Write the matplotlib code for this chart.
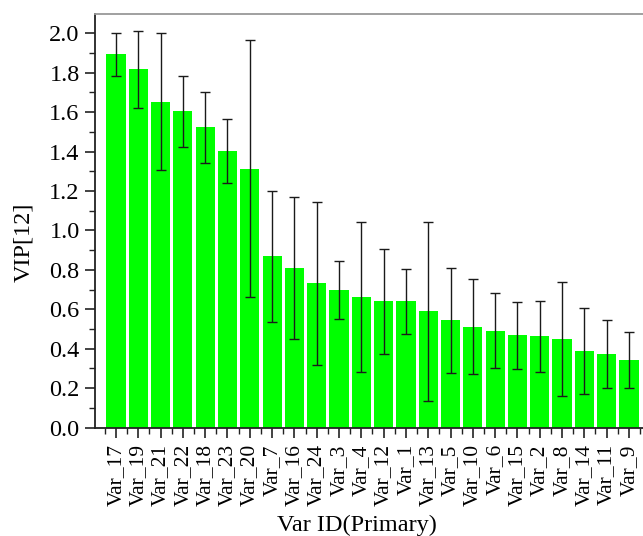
import matplotlib
matplotlib.use("Agg")
import matplotlib.pyplot as plt
from matplotlib.ticker import MultipleLocator, FormatStrFormatter
import numpy as np

# VIP scores of the primary variables, sorted in descending order
variables = ["Var_17", "Var_19", "Var_21", "Var_22", "Var_18", "Var_23", "Var_20",
             "Var_7", "Var_16", "Var_24", "Var_3", "Var_4", "Var_12", "Var_1",
             "Var_13", "Var_5", "Var_10", "Var_6", "Var_15", "Var_2", "Var_8",
             "Var_14", "Var_11", "Var_9"]
vip = [1.893, 1.817, 1.653, 1.606, 1.523, 1.403, 1.311,
       0.870, 0.809, 0.731, 0.697, 0.661, 0.643, 0.640,
       0.592, 0.545, 0.511, 0.492, 0.469, 0.462, 0.450,
       0.389, 0.374, 0.344]
# confidence interval limits
ci_low = [1.783, 1.619, 1.305, 1.423, 1.344, 1.240, 0.660,
          0.533, 0.447, 0.316, 0.550, 0.279, 0.374, 0.472,
          0.135, 0.276, 0.271, 0.301, 0.299, 0.279, 0.161,
          0.169, 0.200, 0.200]
ci_high = [2.003, 2.013, 2.002, 1.785, 1.701, 1.567, 1.966,
           1.200, 1.168, 1.146, 0.843, 1.040, 0.907, 0.804,
           1.040, 0.809, 0.751, 0.680, 0.638, 0.641, 0.736,
           0.606, 0.545, 0.486]

plt.rcParams["font.family"] = ["Liberation Serif", "DejaVu Serif"]

fig = plt.figure(figsize=(6.43, 5.36), dpi=100)
ax = fig.add_axes([95 / 643, 1 - 427.5 / 536, (643 - 95) / 643, (427.5 - 14.3) / 536])

x = np.arange(len(variables))
vip_a = np.array(vip)
yerr = [vip_a - np.array(ci_low), np.array(ci_high) - vip_a]

ax.bar(x, vip, width=0.86, color="#00ff00", edgecolor="none", zorder=2)
ax.errorbar(x, vip, yerr=yerr, fmt="none", ecolor="#1a1a1a", elinewidth=1.0,
            capsize=3.5, capthick=1.0, zorder=3)

ax.set_xlim(-0.94, 23.63)
ax.set_ylim(0, 2.096)
ax.set_xticks(x)
ax.set_xticklabels(variables, rotation=90, fontsize=15.5)
ax.xaxis.set_minor_locator(MultipleLocator(0.5))
ax.yaxis.set_major_locator(MultipleLocator(0.2))
ax.yaxis.set_minor_locator(MultipleLocator(0.1))
ax.yaxis.set_major_formatter(FormatStrFormatter("%.1f"))
ax.tick_params(axis="y", labelsize=17.5, pad=4)
ax.tick_params(which="major", direction="out", length=7, width=1.2, color="#222222")
ax.tick_params(which="minor", direction="out", length=4, width=1.0, color="#222222")
ax.tick_params(axis="x", which="major", pad=5)

for side in ("left", "bottom"):
    ax.spines[side].set_color("#222222")
    ax.spines[side].set_linewidth(1.3)
ax.spines["top"].set_color("#999999")
ax.spines["top"].set_linewidth(1.3)
ax.spines["right"].set_visible(False)

ax.set_ylabel("VIP[12]", fontsize=17.5)
ax.yaxis.set_label_coords(-0.111, 0.449)
ax.set_xlabel("Var ID(Primary)", fontsize=17.5)
ax.xaxis.set_label_coords(0.478, -0.212)

fig.savefig("out.png", dpi=100)
